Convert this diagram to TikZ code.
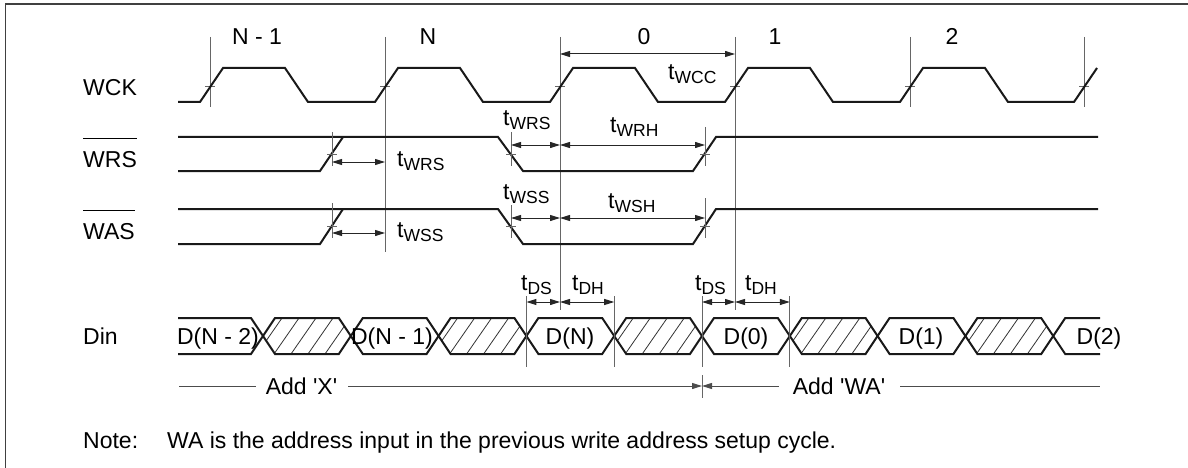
\documentclass[tikz,border=0pt]{standalone}
\usepackage{fontspec}
\setmainfont{Liberation Sans}
\usetikzlibrary{arrows.meta}
\newcommand\tsub[1]{t\raisebox{-4pt}{\fontsize{17.5}{17.5}\selectfont #1}}
\newcommand\ovlabel[1]{\vbox{\hrule height 1pt\kern 11.5pt\hbox{#1}}}
\begin{document}
\begin{tikzpicture}[x=1pt,y=-1pt,
  sig/.style={line width=2pt,black!90},
  mk/.style={line width=1pt,black!60},
  hatch/.style={line width=0.8pt,black!80},
  dimline/.style={line width=1pt,black!85,{Triangle[length=10pt,width=6pt]}-{Triangle[length=10pt,width=6pt]}},
  addline/.style={line width=1pt,black!70},
  txt/.style={font=\fontsize{23}{27}\selectfont,inner sep=0pt},
  tlab/.style={txt,anchor=base west}]
\useasboundingbox (0,0) rectangle (1188,468);
% frame
\draw[line width=1.5pt,black!75] (5.5,468) -- (5.5,4) -- (1188,4);
% row labels
\node[tlab] (lwck) at (83,96) {WCK};
\node[tlab] (lwrs) at (83,167) {\ovlabel{WRS}};
\node[tlab] (lwas) at (83,239) {\ovlabel{WAS}};
\node[tlab] (ldin) at (83,344) {Din};
% cycle numbers
\node[txt,anchor=base] (cn1) at (257,45) {N - 1};
\node[txt,anchor=base] (cn) at (428,45) {N};
\node[txt,anchor=base] (c0) at (644,45) {0};
\node[txt,anchor=base] (c1) at (775,45) {1};
\node[txt,anchor=base] (c2) at (952,45) {2};
% WCK markers
\foreach \m in {210,910,1084} \draw[mk] (\m,37) -- (\m,107);
\draw[mk] (385,37) -- (385,252);
\draw[mk] (560,37) -- (560,310);
\draw[mk] (735,37) -- (735,310);
\foreach \m in {210,385,560,735,910,1084} \draw[mk] (\m-5,87) -- (\m+5,87);
% WCK waveform
\draw[sig] (178,102) foreach \m in {210,385,560,735,910} { -- (\m-10,102) -- (\m+13,68) -- (\m+75,68) -- (\m+98,102) } -- (1074,102) -- (1097,68);
\draw[dimline] (560,54) -- (735,54);
\node[tlab] (twcc) at (668,80) {\tsub{WCC}};
% WRS
\draw[sig] (178,137) -- (498,137) -- (523,171) -- (693,171) -- (716,137) -- (1098,137);
\draw[sig] (178,171) -- (320,171) -- (343,137);
\draw[mk] (332,132) -- (332,166);
\draw[mk] (511,132) -- (511,166);
\draw[mk] (705,127) -- (705,166);
\foreach \m in {332,511,705} \draw[mk] (\m-5,154) -- (\m+5,154);
\draw[dimline] (332,162) -- (385,162);
\node[tlab] (twrsa) at (397,166) {\tsub{WRS}};
\draw[dimline] (511,145) -- (560,145);
\draw[dimline] (560,145) -- (705,145);
\node[tlab] (twrsb) at (503,126) {\tsub{WRS}};
\node[tlab] (twrh) at (610,132) {\tsub{WRH}};
% WAS
\draw[sig] (178,209) -- (498,209) -- (523,244) -- (693,244) -- (716,209) -- (1098,209);
\draw[sig] (178,244) -- (320,244) -- (343,209);
\draw[mk] (332,203) -- (332,238);
\draw[mk] (511,205) -- (511,238);
\draw[mk] (705,198) -- (705,238);
\foreach \m in {332,511,705} \draw[mk] (\m-5,226) -- (\m+5,226);
\draw[dimline] (332,233) -- (385,233);
\node[tlab] (twssa) at (397,237) {\tsub{WSS}};
\draw[dimline] (511,218) -- (560,218);
\draw[dimline] (560,218) -- (705,218);
\node[tlab] (twssb) at (503,199) {\tsub{WSS}};
\node[tlab] (twsh) at (608,208) {\tsub{WSH}};
% Din
\draw[sig] (178,318) -- (251,318) -- (263,336) -- (251,354) -- (178,354);
\foreach \k in {0,...,8} {
  \pgfmathsetmacro\a{263+87.8*\k}
  \pgfmathsetmacro\b{263+87.8*(\k+1)}
  \pgfmathtruncatemacro\ev{mod(\k,2)}
  \ifnum\ev=0
    \begin{scope}
      \clip (\a,336) -- (\a+12,318) -- (\b-12,318) -- (\b,336) -- (\b-12,354) -- (\a+12,354) -- cycle;
      \foreach \h in {-40,-23,...,100} \draw[hatch] (\a+\h,354) -- (\a+\h+25,318);
    \end{scope}
  \fi
  \draw[sig] (\a,336) -- (\a+12,318) -- (\b-12,318) -- (\b,336) -- (\b-12,354) -- (\a+12,354) -- cycle;
}
\draw[sig] (1100,318) -- (1065.2,318) -- (1053.2,336) -- (1065.2,354) -- (1100,354);
\node[txt,anchor=base] (dn2) at (218,344) {D(N - 2)};
\node[txt,anchor=base] (dn1) at (392,344) {D(N - 1)};
\node[txt,anchor=base] (dn) at (570,344) {D(N)};
\node[txt,anchor=base] (d0) at (746,344) {D(0)};
\node[txt,anchor=base] (d1) at (921,344) {D(1)};
\node[txt,anchor=base] (d2) at (1099,344) {D(2)};
% tDS / tDH
\foreach \x in {526.4,614.2,702,789.8} \draw[mk] (\x,296) -- (\x,367);
\draw[dimline] (526.4,302) -- (560,302);
\draw[dimline] (560,302) -- (614.2,302);
\draw[dimline] (702,302) -- (735,302);
\draw[dimline] (735,302) -- (789.8,302);
\node[tlab] (tdsa) at (521,290) {\tsub{DS}};
\node[tlab] (tdha) at (572,290) {\tsub{DH}};
\node[tlab] (tdsb) at (695,290) {\tsub{DS}};
\node[tlab] (tdhb) at (745,290) {\tsub{DH}};
% address lines
\node[txt,anchor=base] (addx) at (301.5,394) {Add \textquotesingle X\textquotesingle};
\node[txt,anchor=base] (addwa) at (839,394) {Add \textquotesingle WA\textquotesingle};
\coordinate (split) at (702,386);
\draw[addline] (179,386) -- (256,386);
\draw[addline,-{Triangle[length=10pt,width=6pt]}] (348,386) -- (split);
\draw[addline,{Triangle[length=10pt,width=6pt]}-] (split) -- (779,386);
\draw[addline] (900,386) -- (1100,386);
\draw[mk] (702,375) -- (702,398);
% note
\node[tlab] (note) at (83,448) {Note:};
\node[tlab] (notetext) at (167,448) {WA is the address input in the previous write address setup cycle.};
\end{tikzpicture}
\end{document}
